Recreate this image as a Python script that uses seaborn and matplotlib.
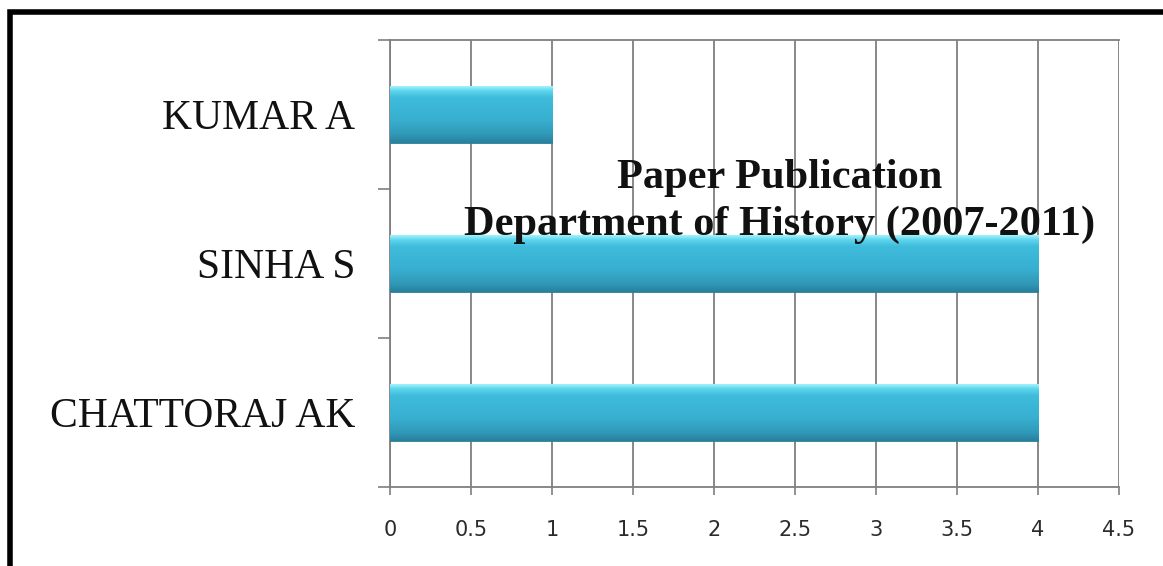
import matplotlib
matplotlib.use("Agg")
import matplotlib.pyplot as plt
import seaborn as sns
import numpy as np
import pandas as pd
from matplotlib.colors import LinearSegmentedColormap
from matplotlib.patches import Rectangle

# data
authors = ['KUMAR A', 'SINHA S', 'CHATTORAJ AK']
papers = [1, 4, 4]
xticks = [0, 0.5, 1, 1.5, 2, 2.5, 3, 3.5, 4, 4.5]
xticklabels = ['0', '0.5', '1', '1.5', '2', '2.5', '3', '3.5', '4', '4.5']

df = pd.DataFrame({'author': authors, 'papers': papers})

sns.set_theme(style="white")
plt.rcParams['font.family'] = ['DejaVu Sans']

fig = plt.figure(figsize=(11.63, 5.66), dpi=100)
ax = fig.add_axes([0.3353, 0.1396, 0.6269, 0.7897])

sns.barplot(data=df, y='author', x='papers', orient='h', color='#3bb6d6',
            width=0.38, ax=ax, zorder=3)

# glossy vertical gradient on each bar
grad_cmap = LinearSegmentedColormap.from_list(
    'bar', [(0, '#a4f4fc'), (0.08, '#5fd6ee'), (0.2, '#3fbcdb'),
            (0.6, '#38afd0'), (0.85, '#3199b8'), (1, '#27809b')])
grad = np.linspace(0, 1, 256).reshape(-1, 1)
for p in ax.patches:
    x0, y0 = p.get_x(), p.get_y()
    w, h = p.get_width(), p.get_height()
    im = ax.imshow(grad, cmap=grad_cmap, aspect='auto', zorder=4,
                   extent=[x0, x0 + w, y0 + h, y0], interpolation='bicubic')
    im.set_clip_path(p)
    p.set_edgecolor('#2a7f98')
    p.set_linewidth(0.6)

ax.set_xlim(0, 4.5)
ax.set_ylim(2.5, -0.5)
ax.set_xticks(xticks)
ax.set_xticklabels(xticklabels)
ax.set_xlabel('')
ax.set_ylabel('')

# vertical grid lines
for xv in xticks:
    ax.axvline(xv, color='#7f7f7f', lw=1.3, zorder=1)

for side in ['left', 'bottom', 'top']:
    ax.spines[side].set_color('#7f7f7f')
    ax.spines[side].set_linewidth(1.3)
ax.spines['right'].set_visible(False)

# category ticks at band edges, labels at band centres
ax.set_yticks([-0.5, 0.5, 1.5, 2.5], minor=True)
ax.tick_params(axis='y', which='minor', left=True, length=9, width=1.2,
               color='#7f7f7f')
ax.tick_params(axis='y', which='major', left=False, length=0, pad=25)
ax.tick_params(axis='x', bottom=True, length=6, width=1.2, color='#7f7f7f',
               pad=18, labelsize=15, labelcolor='#2b2b2b')
for lab in ax.get_yticklabels():
    lab.set_family(['Liberation Serif'])
    lab.set_fontsize(30)
    lab.set_color('#111111')

fig.text(0.6707, 0.644, 'Paper Publication\nDepartment of History (2007-2011)',
         ha='center', va='center', multialignment='center',
         family=['Liberation Serif'], fontweight='bold', fontsize=30.5,
         color='#111111', linespacing=1.27)

# black frame round the picture
fig.patches.append(Rectangle((0.0086, -0.1), 1.2, 1.078, transform=fig.transFigure,
                             fill=False, edgecolor='black', lw=4, clip_on=False))

fig.savefig('out.png', dpi=100)
